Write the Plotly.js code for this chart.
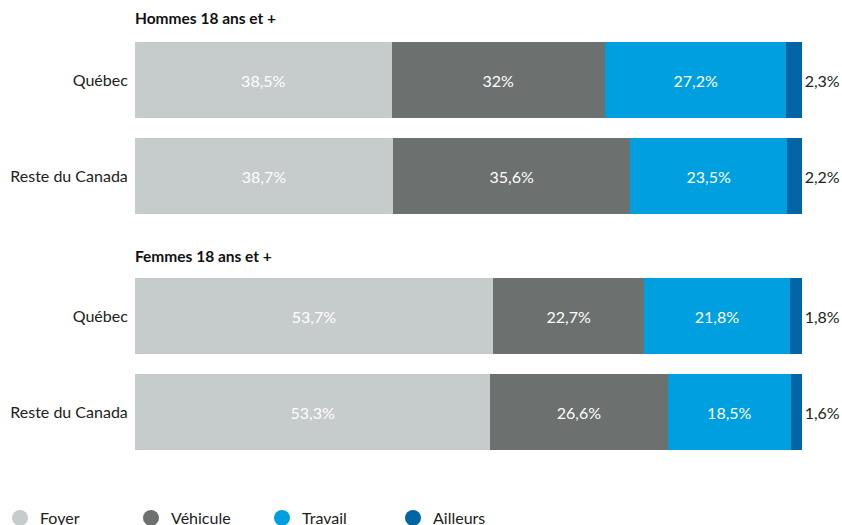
<!DOCTYPE html>
<html>
<head>
<meta charset="utf-8">
<script src="https://cdn.plot.ly/plotly-3.0.1.min.js"></script>
<style>html,body{margin:0;padding:0;background:#fff}#chart{width:842px;height:525px}</style>
</head>
<body>
<div id="chart"></div>
<script>
const groups = ["Hommes 18 ans et +", "Femmes 18 ans et +"];
const regions = ["Québec", "Reste du Canada"];
const seriesNames = ["Foyer", "Véhicule", "Travail", "Ailleurs"];
// order: Hommes Québec, Hommes Reste, Femmes Québec, Femmes Reste
const foyer = [38.5, 38.7, 53.7, 53.3];
const vehicule = [32, 35.6, 22.7, 26.6];
const travail = [27.2, 23.5, 21.8, 18.5];
const ailleurs = [2.3, 2.2, 1.8, 1.6];

const colors = ["#c6cbcb", "#6c706f", "#009fe0", "#0064a5"];
const series = [foyer, vehicule, travail, ailleurs];
const FONT = "Lato, 'Open Sans', sans-serif";

function fmt(v) { return String(v).replace('.', ',') + '%'; }

const traces = [];
groups.forEach((g, gi) => {
  const ya = gi === 0 ? 'y' : 'y2';
  series.forEach((vals, si) => {
    const xs = vals.slice(gi * 2, gi * 2 + 2);
    const last = si === series.length - 1;
    traces.push({
      type: 'bar', orientation: 'h',
      x: xs, y: regions, yaxis: ya, xaxis: 'x',
      name: seriesNames[si], showlegend: false,
      marker: { color: colors[si], line: { width: 0 } },
      text: xs.map(fmt),
      textposition: last ? 'outside' : 'inside',
      insidetextanchor: 'middle',
      constraintext: 'none',
      cliponaxis: false,
      textfont: { family: FONT, size: 16, color: last ? '#222' : '#ffffff' },
      outsidetextfont: { family: FONT, size: 16, color: '#222' },
      insidetextfont: { family: FONT, size: 16, color: last ? '#222' : '#ffffff' },
      hoverinfo: 'x+y'
    });
  });
});
// legend entries with round markers
seriesNames.forEach((n, si) => {
  traces.push({
    type: 'scatter', mode: 'markers', x: [null], y: [null],
    name: n, showlegend: true, xaxis: 'x', yaxis: 'y',
    marker: { color: colors[si], size: 20, symbol: 'circle' }
  });
});

const H = 525;
const layout = {
  width: 842, height: 525,
  margin: { l: 135, r: 40, t: 0, b: 0, autoexpand: false },
  paper_bgcolor: '#fff', plot_bgcolor: '#fff',
  barmode: 'stack', bargap: 0.208,
  font: { family: FONT, size: 16, color: '#222' },
  xaxis: { range: [0, 100.05], visible: false, fixedrange: true },
  yaxis: {
    domain: [1 - 224 / H, 1 - 32 / H], autorange: 'reversed', type: 'category',
    showgrid: false, zeroline: false, showline: false,
    ticks: 'outside', ticklen: 3, tickcolor: 'rgba(0,0,0,0)',
    tickfont: { family: FONT, size: 16, color: '#222' }
  },
  yaxis2: {
    domain: [1 - 460 / H, 1 - 268 / H], autorange: 'reversed', type: 'category',
    anchor: 'x',
    showgrid: false, zeroline: false, showline: false,
    ticks: 'outside', ticklen: 3, tickcolor: 'rgba(0,0,0,0)',
    tickfont: { family: FONT, size: 16, color: '#222' }
  },
  showlegend: true,
  legend: {
    orientation: 'h', traceorder: 'normal',
    xref: 'container', yref: 'container',
    x: -9 / 842, xanchor: 'left',
    y: 7 / H, yanchor: 'middle',
    entrywidth: 86, entrywidthmode: 'pixels',
    font: { family: FONT, size: 16, color: '#222' },
    itemclick: false, itemdoubleclick: false
  },
  annotations: groups.map((g, gi) => ({
    text: '<b>' + g + '</b>', xref: 'paper', yref: 'paper',
    x: -2 / 667, xanchor: 'left', y: gi === 0 ? (H - 18) / H : (H - 256) / H, yanchor: 'middle',
    showarrow: false, font: { family: FONT, size: 15.5, color: '#111' }
  }))
};

Plotly.newPlot('chart', traces, layout, { displayModeBar: false, staticPlot: true });
</script>
</body>
</html>
